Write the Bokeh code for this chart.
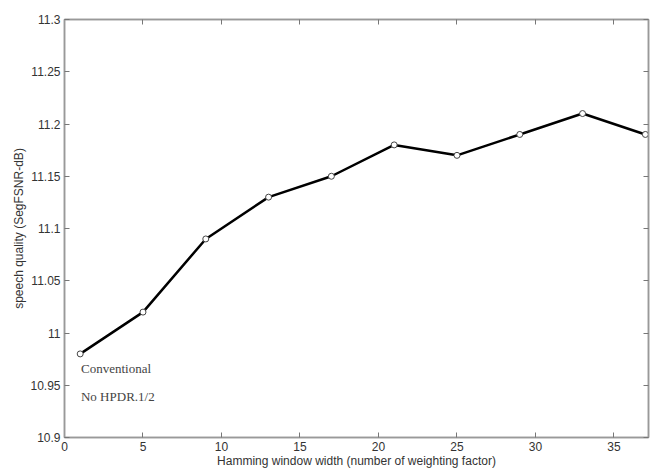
from bokeh.plotting import figure
from bokeh.models import LinearAxis, FixedTicker, Range1d, Label
from bokeh.embed import file_html
from bokeh.resources import INLINE

window_width = [1, 5, 9, 13, 17, 21, 25, 29, 33, 37]
quality = [10.98, 11.02, 11.09, 11.13, 11.15, 11.18, 11.17, 11.19, 11.21, 11.19]
x_ticks = [0, 5, 10, 15, 20, 25, 30, 35]
y_ticks = [10.9, 10.95, 11.0, 11.05, 11.1, 11.15, 11.2, 11.25, 11.3]
y_tick_labels = {10.9: "10.9", 10.95: "10.95", 11.0: "11", 11.05: "11.05", 11.1: "11.1",
                 11.15: "11.15", 11.2: "11.2", 11.25: "11.25", 11.3: "11.3"}

p = figure(width=650, height=470, output_backend="svg", toolbar_location=None,
           x_range=Range1d(0, 37.2), y_range=Range1d(10.9, 11.3),
           x_axis_location=None, y_axis_location=None,
           min_border_left=64, min_border_right=2, min_border_top=19, min_border_bottom=27)
p.grid.visible = False
p.outline_line_color = "#999999"
p.outline_line_width = 1.5
p.background_fill_color = "white"
p.border_fill_color = "white"

def style(ax, ticks, labels=True):
    ax.ticker = FixedTicker(ticks=ticks)
    ax.major_tick_in = 5
    ax.major_tick_out = 0
    ax.minor_tick_line_color = None
    ax.axis_line_color = "#999999"
    ax.axis_line_width = 1.5
    ax.major_tick_line_color = "#777777"
    ax.major_label_text_font = "Liberation Sans"
    ax.major_label_text_font_size = "12px"
    ax.major_label_text_color = "#333333"
    ax.major_label_standoff = 4
    if not labels:
        ax.major_label_overrides = {t: "" for t in ticks}
        ax.major_label_standoff = 0

xb = LinearAxis()
style(xb, x_ticks)
xb.axis_label = "Hamming window width (number of weighting factor)"
xb.axis_label_text_font = "Liberation Sans"
xb.axis_label_text_font_size = "12px"
xb.axis_label_text_font_style = "normal"
xb.axis_label_text_color = "#333333"
xb.axis_label_standoff = 0
p.add_layout(xb, "below")

yl = LinearAxis()
style(yl, y_ticks)
yl.major_label_overrides = y_tick_labels
yl.axis_label = "speech quality (SegFSNR-dB)"
yl.axis_label_text_font = "Liberation Sans"
yl.axis_label_text_font_size = "12px"
yl.axis_label_text_font_style = "normal"
yl.axis_label_text_color = "#333333"
yl.axis_label_standoff = 1
p.add_layout(yl, "left")

xt = LinearAxis()
style(xt, x_ticks, labels=False)
p.add_layout(xt, "above")

yr = LinearAxis()
style(yr, y_ticks, labels=False)
p.add_layout(yr, "right")

p.line(window_width, quality, line_color="black", line_width=2.5)
p.scatter(window_width, quality, marker="circle", size=6, fill_color="white",
          line_color="#444444", line_width=1)

p.add_layout(Label(x=1.05, y=10.966, text="Conventional", text_font="Liberation Serif",
                   text_font_size="13px", text_color="#444444", text_baseline="middle"))
p.add_layout(Label(x=1.05, y=10.939, text="No HPDR.1/2", text_font="Liberation Serif",
                   text_font_size="13px", text_color="#444444", text_baseline="middle"))

open("out.html", "w").write(file_html(p, INLINE))
